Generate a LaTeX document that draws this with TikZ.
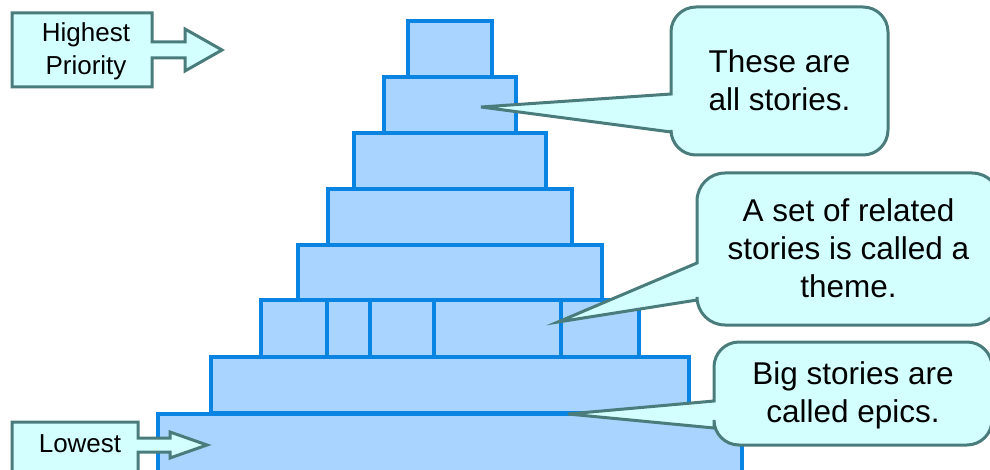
\documentclass[tikz,border=0pt]{standalone}
\usepackage{fontspec}
\setmainfont{Liberation Sans}
\definecolor{storyfill}{HTML}{A8D4FF}
\definecolor{storyline}{HTML}{0A84E2}
\definecolor{notefill}{HTML}{D4FFFF}
\definecolor{noteline}{HTML}{4A7C7C}
\tikzset{
  story/.style={rectangle,draw=storyline,fill=storyfill,line width=3.5pt,minimum height=56pt,inner sep=0},
  % callouts and the two flags share the same teal outline
  note/.style={draw=noteline,fill=notefill,line width=3pt,line join=miter},
  notetext/.style={align=center,inner sep=0,font=\fontsize{31.5}{38}\selectfont},
  flagtext/.style={align=center,inner sep=0,font=\fontsize{26}{33}\selectfont},
}
\begin{document}
\begin{tikzpicture}[x=1pt,y=-1pt]
  \useasboundingbox (0,0) rectangle (990,470);
  % the pyramid of stories, top row first
  \foreach \w [count=\i] in {84,132,192,244,304,378,478} {
    \node[story,minimum width=\w pt] (row\i) at (450,{49+56*(\i-1)}) {};
  }
  \node[story,minimum width=584pt,minimum height=80pt] (row8) at (450,454) {};
  % the theme row is split into several stories
  \foreach \l/\r [count=\k] in {261/327,327/370,370/434,434/561,561/639} {
    \node[story,minimum width={(\r-\l)*1pt},minimum height=57pt] (theme\k) at ({(\l+\r)/2},328.5) {};
  }
  % callout tips
  \coordinate (tip1) at (481,107);
  \coordinate (tip2) at (558,322);
  \coordinate (tip3) at (568,414);
  \draw[note] (671,94) [rounded corners=25pt] -- (671,7) -- (888,7) -- (888,155) -- (671,155)
    [sharp corners] -- (671,132) -- (tip1) -- cycle;
  \draw[note] (697,263) [rounded corners=28pt] -- (697,173) -- (1000,173) -- (1000,325) -- (697,325)
    [sharp corners] -- (697,300) -- (tip2) -- cycle;
  \draw[note] (714,401) [rounded corners=25pt] -- (714,342) -- (992,342) -- (992,445) -- (714,445)
    [sharp corners] -- (714,428) -- (tip3) -- cycle;
  \node[notetext] (stories) at (779.5,80) {These are\\all stories.};
  \node[notetext] (theme) at (848.5,248.5) {A set of related\\stories is called a\\theme.};
  \node[notetext] (epics) at (853,395) {Big stories are\\called epics.};
  % priority flags
  \draw[note] (12,13) -- (152,13) -- (152,42) -- (185,42) -- (185,29) -- (222,50) -- (185,71)
    -- (185,58) -- (152,58) -- (152,87) -- (12,87) -- cycle;
  \draw[note] (12,480) -- (12,422) -- (138,422) -- (138,438) -- (170,438) -- (170,432) -- (207,445)
    -- (170,458) -- (170,452) -- (138,452) -- (138,480) -- cycle;
  \node[flagtext] (high) at (86,51) {Highest\\Priority};
  \node[flagtext] (low) at (80,444) {Lowest};
\end{tikzpicture}
\end{document}
